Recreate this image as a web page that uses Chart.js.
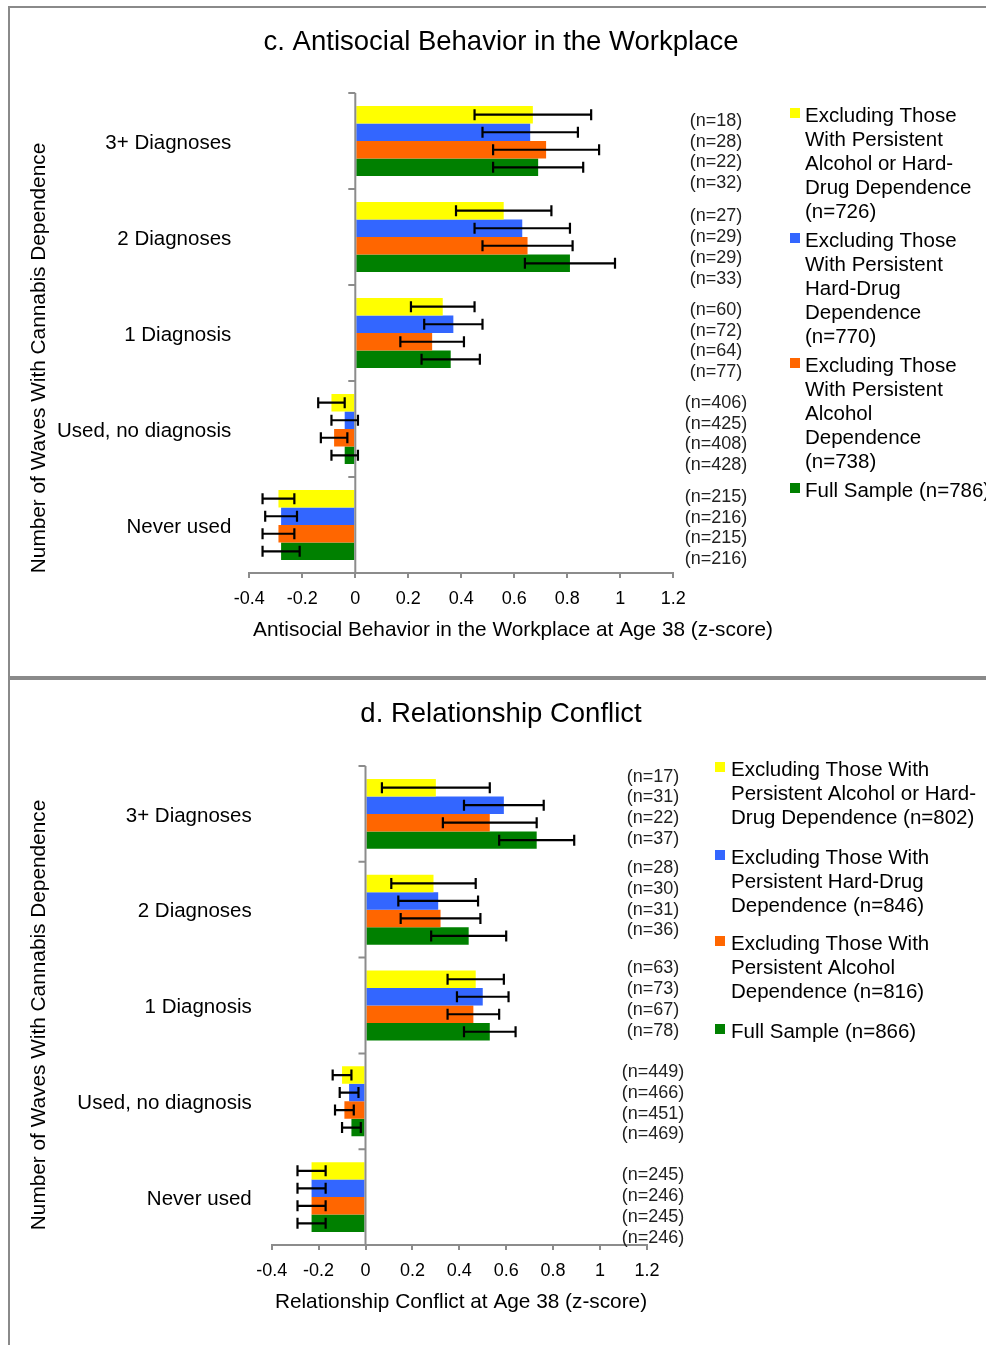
<!DOCTYPE html>
<html>
<head>
<meta charset="utf-8">
<script src="https://cdn.jsdelivr.net/npm/chart.js@4.4.1/dist/chart.umd.min.js"></script>
<style>
  html, body { margin: 0; padding: 0; background: #fff; }
  #page { position: relative; width: 986px; height: 1345px; overflow: hidden; background: #fff; }
  #page canvas { position: absolute; left: 0; }
  .rule { position: absolute; background: #8a8a8a; }
</style>
</head>
<body>
<div id="page">
  <canvas id="panelC" width="986" height="677" style="top:0px"></canvas>
  <canvas id="panelD" width="986" height="665" style="top:680px"></canvas>
  <div class="rule" style="left:8px;top:6px;width:978px;height:2px"></div>
  <div class="rule" style="left:8px;top:6px;width:2px;height:1339px"></div>
  <div class="rule" style="left:8px;top:676px;width:978px;height:4px"></div>
</div>
<script>
// ---- shared categories and ticks ----
const categories = ["3+ Diagnoses", "2 Diagnoses", "1 Diagnosis", "Used, no diagnosis", "Never used"];
const xTicks = [-0.4, -0.2, 0, 0.2, 0.4, 0.6, 0.8, 1, 1.2];

// ---- c. Antisocial behavior in the workplace (z-score means and 95% CI bounds) ----
const workExclAlcDrug     = [0.67, 0.56, 0.33, -0.09, -0.29];
const workExclAlcDrugLo   = [0.45, 0.38, 0.21, -0.14, -0.35];
const workExclAlcDrugHi   = [0.89, 0.74, 0.45, -0.04, -0.23];
const workExclDrug        = [0.66, 0.63, 0.37, -0.04, -0.28];
const workExclDrugLo      = [0.48, 0.45, 0.26, -0.09, -0.34];
const workExclDrugHi      = [0.84, 0.81, 0.48, 0.01, -0.22];
const workExclAlc         = [0.72, 0.65, 0.29, -0.08, -0.29];
const workExclAlcLo       = [0.52, 0.48, 0.17, -0.13, -0.35];
const workExclAlcHi       = [0.92, 0.82, 0.41, -0.03, -0.23];
const workFull            = [0.69, 0.81, 0.36, -0.04, -0.28];
const workFullLo          = [0.52, 0.64, 0.25, -0.09, -0.35];
const workFullHi          = [0.86, 0.98, 0.47, 0.01, -0.21];
const workN = [
  [18, 27, 60, 406, 215],
  [28, 29, 72, 425, 216],
  [22, 29, 64, 408, 215],
  [32, 33, 77, 428, 216]
];
const workLegend = [
  ["Excluding Those", "With Persistent", "Alcohol or Hard-", "Drug Dependence", "(n=726)"],
  ["Excluding Those", "With Persistent", "Hard-Drug", "Dependence", "(n=770)"],
  ["Excluding Those", "With Persistent", "Alcohol", "Dependence", "(n=738)"],
  ["Full Sample (n=786)"]
];

// ---- d. Relationship conflict (z-score means and 95% CI bounds) ----
const relExclAlcDrug      = [0.30, 0.29, 0.47, -0.10, -0.23];
const relExclAlcDrugLo    = [0.07, 0.11, 0.35, -0.14, -0.29];
const relExclAlcDrugHi    = [0.53, 0.47, 0.59, -0.06, -0.17];
const relExclDrug         = [0.59, 0.31, 0.50, -0.07, -0.23];
const relExclDrugLo       = [0.42, 0.14, 0.39, -0.11, -0.29];
const relExclDrugHi       = [0.76, 0.48, 0.61, -0.03, -0.17];
const relExclAlc          = [0.53, 0.32, 0.46, -0.09, -0.23];
const relExclAlcLo        = [0.33, 0.15, 0.35, -0.13, -0.29];
const relExclAlcHi        = [0.73, 0.49, 0.57, -0.05, -0.17];
const relFull             = [0.73, 0.44, 0.53, -0.06, -0.23];
const relFullLo           = [0.57, 0.28, 0.42, -0.10, -0.29];
const relFullHi           = [0.89, 0.60, 0.64, -0.02, -0.17];
const relN = [
  [17, 28, 63, 449, 245],
  [31, 30, 73, 466, 246],
  [22, 31, 67, 451, 245],
  [37, 36, 78, 469, 246]
];
const relLegend = [
  ["Excluding Those With", "Persistent Alcohol or Hard-", "Drug Dependence (n=802)"],
  ["Excluding Those With", "Persistent Hard-Drug", "Dependence (n=846)"],
  ["Excluding Those With", "Persistent Alcohol", "Dependence (n=816)"],
  ["Full Sample (n=866)"]
];

// ---- styling ----
const FONT = '"Liberation Sans", Arial, Helvetica, sans-serif';
const COLORS = ["#ffff00", "#3366ff", "#ff6600", "#008000"];
const AXIS = "#8c8c8c";
const TEXT_DY = 2; // optical nudge so middle-baseline text sits on its line

function fmtTick(v) {
  const r = Math.round(v * 10) / 10;
  return r === 0 ? "0" : String(r);
}

// Decorations drawn on top of the bars: zero axis, CI whiskers, n labels, titles, legend.
function decorPlugin(p) {
  return {
    id: "panelDecor",
    afterDatasetsDraw(chart) {
      const ctx = chart.ctx, xs = chart.scales.x, ys = chart.scales.y;
      const x0 = xs.getPixelForValue(0);
      const band = ys.getPixelForValue(1) - ys.getPixelForValue(0);
      ctx.save();
      ctx.strokeStyle = AXIS;
      ctx.lineWidth = 2;
      ctx.beginPath();
      const topY = ys.getPixelForValue(0) - band / 2;
      const botY = ys.getPixelForValue(categories.length - 1) + band / 2;
      ctx.moveTo(x0, topY);
      ctx.lineTo(x0, botY);
      for (let i = 0; i < categories.length; i++) {
        const yb = ys.getPixelForValue(i) - band / 2;
        ctx.moveTo(x0 - 7, yb);
        ctx.lineTo(x0, yb);
      }
      ctx.stroke();

      ctx.strokeStyle = "#000";
      ctx.lineWidth = 2.2;
      chart.data.datasets.forEach((ds, di) => {
        chart.getDatasetMeta(di).data.forEach((el, i) => {
          const a = xs.getPixelForValue(ds.lo[i]);
          const b = xs.getPixelForValue(ds.hi[i]);
          const y = el.y;
          ctx.beginPath();
          ctx.moveTo(a, y); ctx.lineTo(b, y);
          ctx.moveTo(a, y - 5.5); ctx.lineTo(a, y + 5.5);
          ctx.moveTo(b, y - 5.5); ctx.lineTo(b, y + 5.5);
          ctx.stroke();
        });
      });
      ctx.restore();
    },
    afterDraw(chart) {
      const ctx = chart.ctx, ys = chart.scales.y;
      ctx.save();
      ctx.fillStyle = "#000";
      ctx.textBaseline = "middle";

      ctx.textAlign = "center";
      ctx.font = p.titleSize + "px " + FONT;
      ctx.fillText(p.title, p.titleX, p.titleY + TEXT_DY);

      ctx.font = p.axisTitleSize + "px " + FONT;
      ctx.fillText(p.xTitle, p.xTitleX, p.xTitleY + TEXT_DY);

      ctx.save();
      ctx.translate(p.yTitleX + TEXT_DY, p.yTitleY);
      ctx.rotate(-Math.PI / 2);
      ctx.fillText(p.yTitle, 0, 0);
      ctx.restore();

      // sample sizes per bar
      ctx.fillStyle = "#222";
      ctx.font = p.nSize + "px " + FONT;
      p.counts.forEach((row, di) => {
        row.forEach((n, i) => {
          const y = ys.getPixelForValue(i) + p.nShift[i] + (di - 1.5) * p.nStep;
          ctx.fillText("(n=" + n + ")", p.nX, y + TEXT_DY);
        });
      });

      // legend
      ctx.textAlign = "left";
      ctx.font = p.legendSize + "px " + FONT;
      p.legend.forEach((lines, di) => {
        const y0 = p.legendY[di];
        ctx.fillStyle = COLORS[di];
        ctx.fillRect(p.legendBoxX, y0 - 6, 10, 10);
        ctx.fillStyle = "#000";
        lines.forEach((t, k) => ctx.fillText(t, p.legendTextX, y0 + k * p.legendLine + TEXT_DY));
      });
      ctx.restore();
    }
  };
}

function buildPanel(canvasId, series, p) {
  const datasets = series.map((s, di) => ({
    label: p.legend[di].join(" "),
    data: s.v,
    lo: s.lo,
    hi: s.hi,
    backgroundColor: COLORS[di],
    borderWidth: 0,
    categoryPercentage: 0.73,
    barPercentage: 1.0
  }));
  return new Chart(document.getElementById(canvasId), {
    type: "bar",
    data: { labels: categories, datasets },
    options: {
      indexAxis: "y",
      responsive: false,
      animation: false,
      devicePixelRatio: 1,
      layout: { padding: { left: 0, top: p.areaTop, right: p.padRight, bottom: p.padBottom } },
      plugins: { legend: { display: false }, tooltip: { enabled: false }, title: { display: false } },
      scales: {
        x: {
          type: "linear",
          min: xTicks[0],
          max: xTicks[xTicks.length - 1],
          afterBuildTicks: (s) => { s.ticks = xTicks.map(v => ({ value: v })); },
          afterFit: (s) => { s.height = 44; },
          ticks: { callback: fmtTick, color: "#000", font: { family: FONT, size: 18 }, padding: 10, maxRotation: 0, autoSkip: false },
          grid: { drawOnChartArea: false, drawTicks: true, tickLength: 5, color: AXIS, lineWidth: 2 },
          border: { display: true, color: AXIS, width: 2 }
        },
        y: {
          type: "category",
          offset: true,
          afterFit: (s) => { s.width = p.axisLeft; },
          ticks: { color: "#000", font: { family: FONT, size: 20.5 }, padding: p.labelPad, labelOffset: TEXT_DY },
          grid: { display: false, drawTicks: false },
          border: { display: false }
        }
      }
    },
    plugins: [decorPlugin(p)]
  });
}

buildPanel("panelC", [
  { v: workExclAlcDrug, lo: workExclAlcDrugLo, hi: workExclAlcDrugHi },
  { v: workExclDrug, lo: workExclDrugLo, hi: workExclDrugHi },
  { v: workExclAlc, lo: workExclAlcLo, hi: workExclAlcHi },
  { v: workFull, lo: workFullLo, hi: workFullHi }
], {
  areaTop: 93, padRight: 986 - 673.3, padBottom: 677 - 573 - 44,
  axisLeft: 249.3, labelPad: 18,
  title: "c. Antisocial Behavior in the Workplace", titleSize: 27.5, titleX: 501, titleY: 40,
  xTitle: "Antisocial Behavior in the Workplace at Age 38 (z-score)", xTitleX: 513, xTitleY: 628,
  yTitle: "Number of Waves With Cannabis Dependence", yTitleX: 37, yTitleY: 358, axisTitleSize: 20.8,
  counts: workN, nSize: 18, nX: 716, nStep: 20.8, nShift: [9, 8.5, 6, 3, 1],
  legend: workLegend, legendSize: 20.5, legendLine: 24, legendBoxX: 790, legendTextX: 805,
  legendY: [114, 239, 364, 489]
});

buildPanel("panelD", [
  { v: relExclAlcDrug, lo: relExclAlcDrugLo, hi: relExclAlcDrugHi },
  { v: relExclDrug, lo: relExclDrugLo, hi: relExclDrugHi },
  { v: relExclAlc, lo: relExclAlcLo, hi: relExclAlcHi },
  { v: relFull, lo: relFullLo, hi: relFullHi }
], {
  areaTop: 86, padRight: 986 - 646.9, padBottom: 665 - 565 - 44,
  axisLeft: 271.7, labelPad: 20,
  title: "d. Relationship Conflict", titleSize: 27.5, titleX: 501, titleY: 32,
  xTitle: "Relationship Conflict at Age 38 (z-score)", xTitleX: 461, xTitleY: 620,
  yTitle: "Number of Waves With Cannabis Dependence", yTitleX: 37, yTitleY: 335, axisTitleSize: 20.8,
  counts: relN, nSize: 18, nX: 653, nStep: 20.8, nShift: [-8, -12.5, -8, 0, 7.5],
  legend: relLegend, legendSize: 20.5, legendLine: 24, legendBoxX: 715, legendTextX: 731,
  legendY: [88, 176, 262, 350]
});
</script>
</body>
</html>
